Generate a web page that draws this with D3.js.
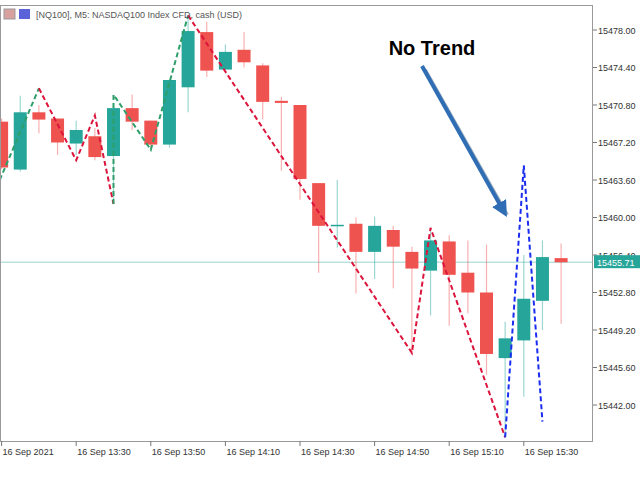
<!DOCTYPE html>
<html><head><meta charset="utf-8">
<script src="https://cdn.jsdelivr.net/npm/d3@7"></script>
<style>body{margin:0;background:#fff}</style>
</head><body>
<svg id="chart" width="640" height="480"></svg>
<script>
// 5 minute candles, 13:10 .. 15:40
const opens  = [15469.2,15464.6,15470.1,15469.5,15467.1,15467.8,15465.9,15470.5,15469.3,15467.0,15472.5,15477.8,15474.2,15476.1,15474.6,15471.2,15470.8,15463.3,15459.2,15459.4,15456.7,15458.8,15456.7,15454.9,15457.7,15454.7,15452.8,15446.5,15448.2,15452.0,15456.1];
const highs  = [15469.5,15471.7,15470.8,15469.5,15469.3,15468.6,15470.5,15471.8,15469.3,15473.2,15479.4,15478.8,15476.6,15477.8,15474.8,15471.6,15470.8,15463.3,15463.6,15460.0,15460.1,15459.2,15457.2,15459.0,15458.3,15457.8,15457.4,15450.0,15456.4,15457.8,15457.5];
const lows   = [15464.6,15464.4,15468.1,15466.0,15466.0,15465.5,15461.3,15468.4,15466.7,15466.7,15470.1,15473.5,15474.2,15474.4,15469.4,15464.5,15461.7,15454.7,15457.1,15452.7,15454.1,15453.2,15447.0,15450.6,15449.6,15450.8,15444.9,15438.9,15442.8,15449.2,15449.8];
const closes = [15464.8,15470.1,15469.4,15467.2,15468.4,15465.8,15470.5,15469.2,15467.0,15473.2,15477.9,15474.1,15475.9,15474.9,15471.1,15471.0,15463.7,15459.2,15459.3,15456.7,15459.2,15457.2,15455.1,15457.8,15454.5,15452.8,15446.9,15448.4,15452.2,15456.2,15455.7];
// zigzag legs: [candle index, price]
const zzGreen1 = [[-0.1,15463.6],[2,15472.4]];
const zzRed1   = [[2,15472.4],[4,15465.5],[5,15469.8],[6,15461.3]];
const zzGreen2 = [[6,15461.3],[6,15471.8],[8,15466.5],[10,15479.4]];
const zzRed2   = [[10,15479.4],[22,15447.0],[23,15459.0],[27,15438.9]];
const zzBlue   = [[27,15438.9],[28,15465.0],[29,15440.4]];
const priceTicks = [15442.0,15445.6,15449.2,15452.8,15456.4,15460.0,15463.6,15467.2,15470.8,15474.4,15478.0];
const timeLabels = [[0,"16 Sep 2021"],[4,"16 Sep 13:30"],[8,"16 Sep 13:50"],[12,"16 Sep 14:10"],[16,"16 Sep 14:30"],[20,"16 Sep 14:50"],[24,"16 Sep 15:10"],[28,"16 Sep 15:30"]];
const lastPrice = 15455.71;

const UP = "#26a69a", DOWN = "#ef5350";
const svg = d3.select("#chart").style("font-family","'Liberation Sans', Arial, sans-serif");
const PL = 0, PR = 593, PT = 5, PB = 441;
const FS = 9;

const x = d3.scaleLinear().domain([0,30]).range([1.6, 1.6+18.65*30]);
const y = d3.scaleLinear().domain([15442,15463.6]).range([405,180]);

svg.append("defs").append("clipPath").attr("id","clip")
  .append("rect").attr("x",PL).attr("y",PT).attr("width",PR-PL).attr("height",PB-PT);
const plot = svg.append("g").attr("clip-path","url(#clip)");

// last price line
plot.append("line").attr("x1",PL).attr("x2",PR).attr("y1",y(lastPrice)).attr("y2",y(lastPrice))
  .attr("stroke","#9ad6cf").attr("stroke-width",1);

const idx = d3.range(opens.length);
const col = i => closes[i] >= opens[i] ? UP : DOWN;
plot.selectAll("line.wick").data(idx).join("line").attr("class","wick")
  .attr("x1",i=>x(i)).attr("x2",i=>x(i)).attr("y1",i=>y(highs[i])).attr("y2",i=>y(lows[i]))
  .attr("stroke",i=>col(i)).attr("stroke-opacity",0.45).attr("stroke-width",1.2);
plot.selectAll("rect.body").data(idx).join("rect").attr("class","body")
  .attr("x",i=>x(i)-6.5).attr("width",13)
  .attr("y",i=>y(Math.max(opens[i],closes[i])))
  .attr("height",i=>Math.max(1.5,Math.abs(y(opens[i])-y(closes[i]))))
  .attr("fill",i=>col(i));

const line = d3.line().x(d=>x(d[0])).y(d=>y(d[1]));
[[zzGreen1,"#2e9e6a"],[zzRed1,"#dc143c"],[zzGreen2,"#2e9e6a"],[zzRed2,"#dc143c"],[zzBlue,"#1a2cf0"]].forEach(([d,c])=>{
  plot.append("path").attr("d",line(d)).attr("fill","none").attr("stroke",c)
    .attr("stroke-width",2).attr("stroke-dasharray","5,3");
});

// frame
svg.append("rect").attr("x",PL+0.5).attr("y",PT+0.5).attr("width",PR-PL-1).attr("height",PB-PT)
  .attr("fill","none").attr("stroke","#9a9a9a");

// price axis
const ya = svg.append("g");
priceTicks.forEach(p=>{
  ya.append("line").attr("x1",PR).attr("x2",PR+4).attr("y1",y(p)).attr("y2",y(p)).attr("stroke","#777");
  ya.append("text").attr("x",PR+5).attr("y",y(p)+3.5).attr("font-size",FS).attr("fill","#333").text(p.toFixed(2));
});
ya.append("rect").attr("x",PR+1).attr("y",y(lastPrice)-7).attr("width",46).attr("height",13).attr("fill",UP);
ya.append("text").attr("x",PR+4).attr("y",y(lastPrice)+3.5).attr("font-size",FS).attr("fill","#fff").text(lastPrice.toFixed(2));

// time axis
timeLabels.forEach(([i,t])=>{
  svg.append("line").attr("x1",x(i)).attr("x2",x(i)).attr("y1",PB).attr("y2",PB+5).attr("stroke","#777");
  svg.append("text").attr("x",x(i)+1).attr("y",PB+14).attr("font-size",FS).attr("fill","#333").text(t);
});

// header
svg.append("rect").attr("x",4).attr("y",9).attr("width",11).attr("height",10).attr("fill","#d9a0a0").attr("stroke","#999");
svg.append("rect").attr("x",19).attr("y",9).attr("width",11).attr("height",10).attr("fill","#5a64d8");
svg.append("text").attr("x",36).attr("y",18).attr("font-size",FS).attr("fill","#555")
  .text("[NQ100], M5:  NASDAQ100 Index CFD, cash (USD)");

// annotation
svg.append("text").attr("x",432).attr("y",55).attr("text-anchor","middle")
  .attr("font-weight","bold").attr("font-size",20).text("No Trend");
const defs = svg.select("defs");
defs.append("marker").attr("id","ah").attr("viewBox","0 0 10 10").attr("refX",5).attr("refY",5)
  .attr("markerWidth",4).attr("markerHeight",4).attr("orient","auto")
  .append("path").attr("d","M0,0L10,5L0,10z").attr("fill","#2f6db5");
svg.append("line").attr("x1",423).attr("y1",68).attr("x2",505).attr("y2",213)
  .attr("stroke","#9fb0c0").attr("stroke-width",4).attr("transform","translate(2,2)");
svg.append("line").attr("x1",422).attr("y1",66).attr("x2",503).attr("y2",210)
  .attr("stroke","#2f6db5").attr("stroke-width",4).attr("marker-end","url(#ah)");
</script>
</body></html>
